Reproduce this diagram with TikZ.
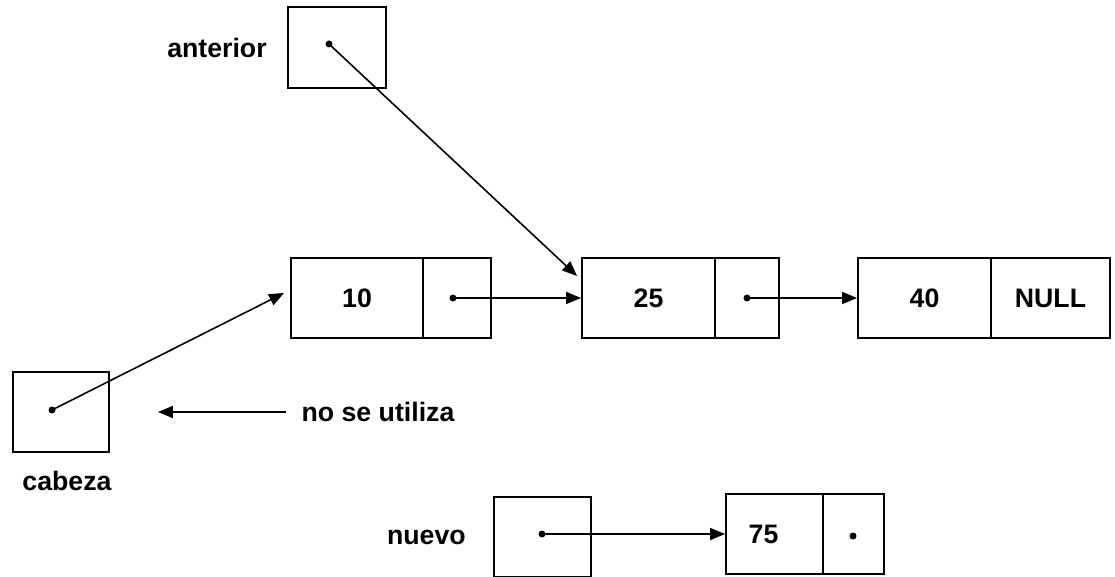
\documentclass[tikz,border=0pt]{standalone}
\usepackage{fontspec}
\setmainfont{Liberation Sans}
\usepackage{tikz}
\usetikzlibrary{arrows.meta,positioning}
\tikzset{
      cell/.style    = {draw, line width=1.1pt, minimum height=1.6cm, inner sep=0pt},
      ptrdot/.style  = {circle, fill=black, inner sep=0pt, minimum size=0.14cm},
      ptr/.style     = {black, line width=0.9pt, ->, >={Triangle[length=0.3cm,width=0.24cm]}},
      lbl/.style     = {inner sep=0pt, font=\fontsize{15.2}{18}\selectfont\bfseries},
    }

\begin{document}
\begin{tikzpicture}[x=0.02cm, y=-0.02cm,
        every node/.append style={font=\fontsize{15.2}{18}\selectfont\bfseries},
        ]
        \useasboundingbox (0,0) rectangle (1115,577);

        % pointers
        \node [cell, minimum width=1.96cm, minimum height=1.62cm] (ant) at (337,47.5) {};
        \node [cell, minimum width=1.92cm] (cab) at (61,412) {};
        \node [cell, minimum width=1.94cm] (nue) at (542.5,537) {};
        \node [lbl, left=0.4cm of ant] (antlbl) {anterior};
        \node [lbl, below=0.36cm of cab, xshift=0.12cm] (cablbl) {cabeza};
        \node [lbl, left=0.54cm of nue] (nuelbl) {nuevo};

        % list nodes
        \node [cell, minimum width=2.64cm] (d10) at (357,298) {10};
        \node [cell, minimum width=1.36cm, right=-1.1pt of d10] (p10) {};
        \node [cell, minimum width=2.66cm] (d25) at (648.5,298) {25};
        \node [cell, minimum width=1.28cm, right=-1.1pt of d25] (p25) {};
        \node [cell, minimum width=2.66cm] (d40) at (924.5,298) {40};
        \node [cell, minimum width=2.38cm, right=-1.1pt of d40] (p40) {NULL};
        \node [cell, minimum width=1.94cm] (d75) at (774.5,534) {\hspace*{-0.44cm}75};
        \node [cell, minimum width=1.22cm, right=-1.1pt of d75] (p75) {};

        % dots
        \node [ptrdot] (antdot) at (329,44) {};
        \node [ptrdot] (cabdot) at (52,410) {};
        \node [ptrdot] (nuedot) at (542,534) {};
        \node [ptrdot] (p10dot) at (453,298) {};
        \node [ptrdot] (p25dot) at (747,298) {};
        \node [ptrdot] (p75dot) at (853,536) {};

        \node [lbl] (nouse) at (378,412) {no se utiliza};

        \draw [ptr] (antdot.center) -- ([xshift=-0.08cm,yshift=-0.38cm]d25.north west);
        \draw [ptr] (p10dot.center) -- (d25.west);
        \draw [ptr] (p25dot.center) -- (d40.west);
        \draw [ptr] (cabdot.center) -- ([xshift=-0.12cm,yshift=0.1cm]d10.west);
        \draw [ptr] (nuedot.center) -- (d75.west);
        \draw [ptr] ([xshift=-0.3cm]nouse.west) -- ([xshift=0.96cm]cab.east);

\end{tikzpicture}
\end{document}
